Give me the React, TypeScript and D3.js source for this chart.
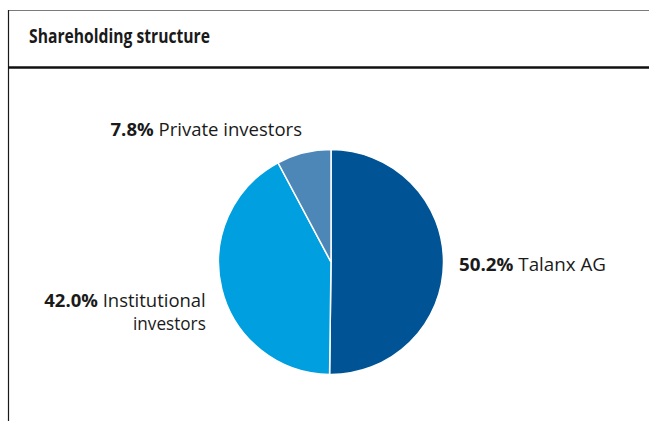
import React from "react";
import * as d3 from "d3";

const categories = ["Talanx AG", "Institutional investors", "Private investors"];
const values = [50.2, 42.0, 7.8];
const valueLabels = ["50.2%", "42.0%", "7.8%"];
const colors = ["#005495", "#009fe0", "#4d87b7"];

const W = 649;
const H = 421;

export default function App() {
  const cx = 331;
  const cy = 262;
  const r = 112.5;
  const pie = d3.pie<number>().sort(null).value((d) => d)(values);
  const arc = d3.arc<d3.PieArcDatum<number>>().innerRadius(0).outerRadius(r);
  const font = "'Open Sans', 'Noto Sans', sans-serif";
  const txt = "#1a1a1a";
  const fs = 18.5;
  return (
    <svg
      width={W}
      height={H}
      style={{ position: "absolute", left: 0, top: 0, background: "#fff" }}
      fontFamily={font}
    >
      <rect x={0} y={0} width={W} height={H} fill="#fff" />
      <line x1={8.5} y1={10.5} x2={W} y2={10.5} stroke="#7a7a7a" strokeWidth={1.2} />
      <line x1={8.5} y1={10} x2={8.5} y2={H} stroke="#1a1a1a" strokeWidth={1.2} />
      <text x={29} y={42.7} fontSize={19} fontWeight={700} fill={txt} textLength={181} lengthAdjust="spacingAndGlyphs">
        Shareholding structure
      </text>
      <line x1={8} y1={67.5} x2={W} y2={67.5} stroke="#111" strokeWidth={2.5} />
      <g transform={`translate(${cx},${cy})`}>
        {pie.map((p, i) => (
          <path key={categories[i]} d={arc(p) || ""} fill={colors[i]} stroke="#fff" strokeWidth={1.5} />
        ))}
      </g>
      <text x={110.5} y={136} fontSize={fs} fill={txt} textLength={191.5} lengthAdjust="spacingAndGlyphs">
        <tspan fontWeight={700}>{valueLabels[2]}</tspan> {categories[2]}
      </text>
      <text x={459} y={271} fontSize={fs} fill={txt} textLength={147} lengthAdjust="spacingAndGlyphs">
        <tspan fontWeight={700}>{valueLabels[0]}</tspan> {categories[0]}
      </text>
      <text x={44.3} y={306.7} fontSize={fs} fill={txt} textLength={161.5} lengthAdjust="spacingAndGlyphs">
        <tspan fontWeight={700}>{valueLabels[1]}</tspan> Institutional
      </text>
      <text x={133} y={329.5} fontSize={fs} fill={txt} textLength={72.8} lengthAdjust="spacingAndGlyphs">
        investors
      </text>
    </svg>
  );
}
